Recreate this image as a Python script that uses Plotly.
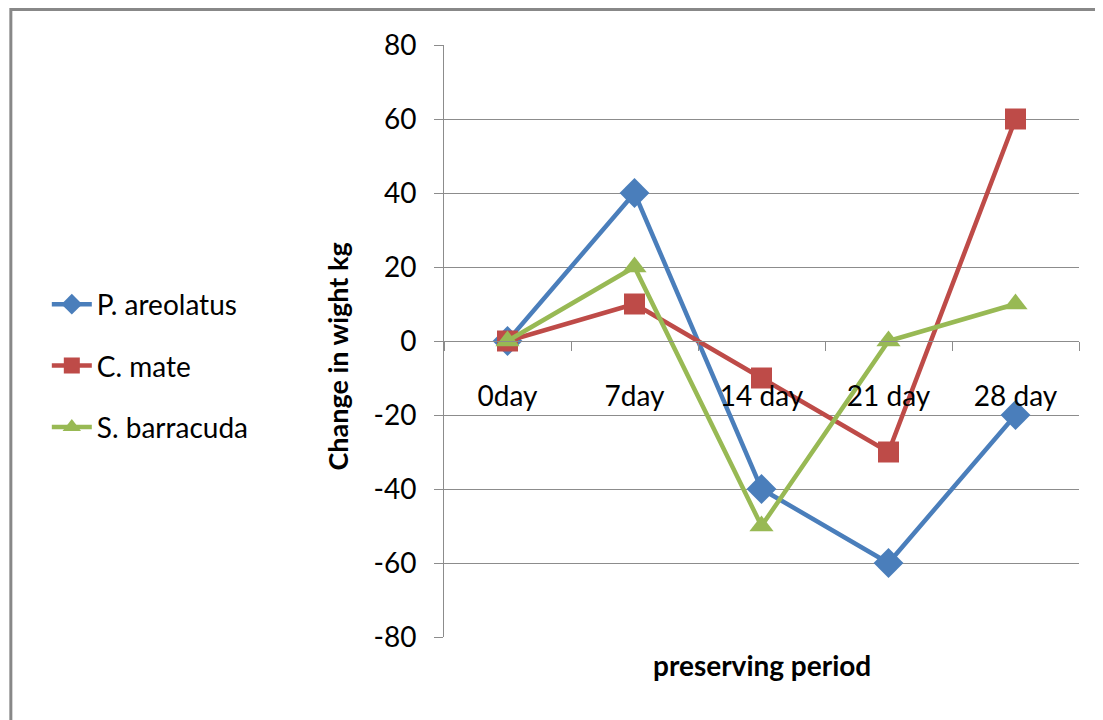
import plotly.graph_objects as go

categories = ["0day", "7day", "14 day", "21 day", "28 day"]
p_areolatus = [0, 40, -40, -60, -20]
c_mate = [0, 10, -10, -30, 60]
s_barracuda = [0, 20, -50, 0, 10]
series_names = ["P. areolatus", "C. mate", "S. barracuda"]
y_ticks = [80, 60, 40, 20, 0, -20, -40, -60, -80]

FONT = "Lato"
W, H = 1103, 720
OFF = 8  # body margin of the page
# target plot area in page pixels
PL, PR, PT, PB = 443.5, 1079, 45, 637
L = PL - OFF
T = PT - OFF
R = W + OFF - PR
B = H + OFF - PB
pw = PR - PL
ph = PB - PT

def px_x(x):
    return (x - PL) / pw

def px_y(y):
    return (PB - y) / ph

fig = go.Figure()
styles = [
    ("#4A7EBB", "diamond", 23),
    ("#BE4B48", "square", 21),
    ("#98B954", "triangle-up", 21),
]
for name, vals, (col, sym, sz) in zip(series_names, [p_areolatus, c_mate, s_barracuda], styles):
    fig.add_trace(go.Scatter(
        x=categories, y=vals, name=name, mode="lines+markers",
        line=dict(color=col, width=4.5),
        marker=dict(symbol=sym, size=sz, color=col),
        legendgroup=name,
    ))

grid = "#8c8c8c"
fig.update_layout(
    width=W, height=H,
    margin=dict(l=L, r=R, t=T, b=B),
    paper_bgcolor="white", plot_bgcolor="white",
    font=dict(family=FONT, size=28, color="#000000"),
    showlegend=True,
    legend=dict(
        x=px_x(46), xanchor="left", y=px_y(366), yanchor="middle",
        font=dict(family=FONT, size=28, color="#000000"),
        tracegroupgap=22, itemwidth=40,
        bgcolor="rgba(0,0,0,0)",
    ),
    xaxis=dict(
        type="category", anchor="free", position=0.5,
        showline=True, linecolor=grid, linewidth=1,
        ticks="outside", ticklen=9, tickcolor=grid, tickson="boundaries",
        showgrid=False, ticklabelstandoff=30,
        tickfont=dict(family=FONT, size=28, color="#000000"),
        range=[-0.5, 4.5],
    ),
    yaxis=dict(
        range=[-80, 80], tickvals=y_ticks, ticktext=[str(v) for v in y_ticks],
        showgrid=True, gridcolor=grid, gridwidth=1,
        showline=True, linecolor=grid, linewidth=1,
        ticks="outside", ticklen=9, tickcolor=grid,
        zeroline=False, ticklabelstandoff=12,
        tickfont=dict(family=FONT, size=28, color="#000000"),
    ),
    annotations=[
        dict(text="<b>preserving period</b>", xref="paper", yref="paper",
             x=px_x(762), y=px_y(665), xanchor="center", yanchor="middle",
             showarrow=False, font=dict(family=FONT, size=28, color="#000000")),
        dict(text="<b>Change in wight kg</b>", xref="paper", yref="paper",
             x=px_x(337), y=px_y(357), xanchor="center", yanchor="middle",
             textangle=-90, showarrow=False,
             font=dict(family=FONT, size=27, color="#000000")),
    ],
    shapes=[
        dict(type="path", xref="paper", yref="paper",
             path=f"M {px_x(10)} {px_y(730)} L {px_x(10)} {px_y(9.5)} L {px_x(1115)} {px_y(9.5)}",
             line=dict(color="#888888", width=3)),
    ],
)

fig.write_html("out.html")
